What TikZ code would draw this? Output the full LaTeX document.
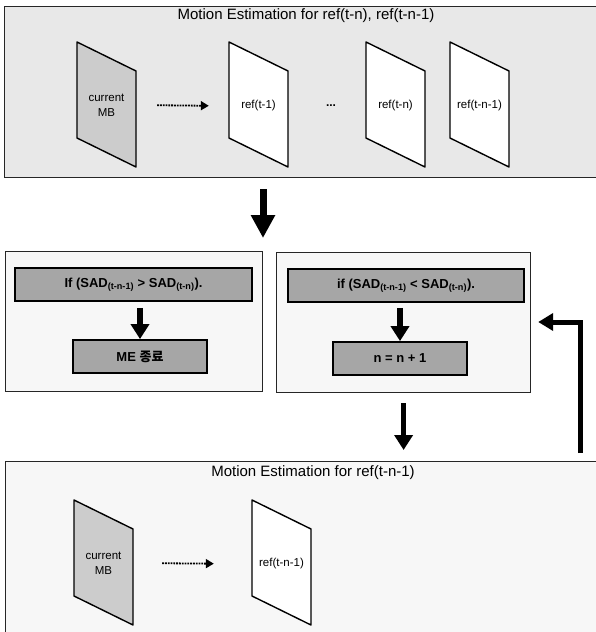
\documentclass[tikz,border=0pt]{standalone}
\usepackage{fontspec}
\setmainfont{Liberation Sans}
\newfontfamily\krfont{Noto Sans CJK KR}
\usetikzlibrary{arrows.meta}

\begin{document}
\begin{tikzpicture}[x=1pt,y=-1pt,
  panel/.style={draw=black!85, line width=1.2pt, anchor=north west, inner sep=0pt},
  sheet/.style={draw, line width=1.4pt, line join=round},
  plane/.style={minimum width=59pt, minimum height=125pt, inner sep=0pt, align=center, font=\fontsize{11.5}{15}\selectfont},
  title/.style={font=\fontsize{15}{17}\selectfont},
  cond/.style={draw, line width=1.8pt, fill=black!35, minimum height=33pt, inner sep=0pt, font=\bfseries\fontsize{13}{15}\selectfont},
  dotarrow/.style={densely dotted, line width=1.8pt, -{Triangle[length=8pt,width=9pt]}},
  bigarrow/.style={line width=7pt, -{Triangle[length=23pt,width=23pt]}},
  midarrow/.style={line width=5.5pt, -{Triangle[length=15pt,width=18pt]}},
  loopback/.style={line width=5pt, -{Triangle[length=15pt,width=17pt]}}]
\useasboundingbox (0,0) rectangle (596,632);
\clip (0,0) rectangle (596,632);

% panels
\node[panel, fill=black!9, minimum width=620pt, minimum height=171pt] (top) at (4,6) {};
\node[panel, fill=black!3, minimum width=257pt, minimum height=140pt] (midL) at (5,251) {};
\node[panel, fill=black!3, minimum width=254pt, minimum height=140pt] (midR) at (276,252) {};
\node[panel, fill=black!3, minimum width=620pt, minimum height=200pt] (bottom) at (5,461) {};

\node[title] (toptitle) at (306,16) {Motion Estimation for ref(t-n), ref(t-n-1)};
\node[title] (bottitle) at (313,473) {Motion Estimation for ref(t-n-1)};

% frames
\path[sheet, fill=black!20] (77,42) -- (136,71) -- (136,167) -- (77,138) -- cycle;
\path[sheet, fill=white] (229,42) -- (288,71) -- (288,167) -- (229,138) -- cycle;
\path[sheet, fill=white] (366,42) -- (425,71) -- (425,167) -- (366,138) -- cycle;
\path[sheet, fill=white] (450,42) -- (509,71) -- (509,167) -- (450,138) -- cycle;
\path[sheet, fill=black!20] (74,500) -- (133,529) -- (133,625) -- (74,596) -- cycle;
\path[sheet, fill=white] (252,500) -- (311,529) -- (311,625) -- (252,596) -- cycle;

\node[plane] (cur) at (106.5,105) {current\\MB};
\node[plane] (r1) at (258.5,106) {ref(t-1)};
\node[plane] (rn) at (395.5,106) {ref(t-n)};
\node[plane] (rn1) at (479.5,106) {ref(t-n-1)};
\node[font=\bfseries\fontsize{12}{12}\selectfont] (dots) at (331,106) {...};
\node[plane] (cur2) at (103.5,563) {current\\MB};
\node[plane] (r3) at (281.5,564) {ref(t-n-1)};

\draw[dotarrow, shorten <=21pt, shorten >=20pt] (cur.east) -- (r1.west);
\draw[dotarrow, shorten <=29pt, shorten >=38pt] (cur2.east) -- (r3.west);

% decisions
\node[cond, minimum width=237pt] (condL) at (133.5,284.5) {If (SAD\textsubscript{(t-n-1)} > SAD\textsubscript{(t-n)}).};
\node[cond, minimum width=134pt] (endL) at (140,356.5) {ME {\krfont 종료}};
\node[cond, minimum width=236pt] (condR) at (406,285.5) {if (SAD\textsubscript{(t-n-1)} < SAD\textsubscript{(t-n)}).};
\node[cond, minimum width=134pt] (incR) at (400,358.5) {n = n + 1};

\coordinate (split) at (263,251);
\coordinate (bend) at (580,322);

\draw[bigarrow, shorten <=11pt, shorten >=13pt] (top.south -| split) -- (split);
\draw[midarrow, shorten <=6pt] (condL.south -| endL.north) -- (endL.north);
\draw[midarrow, shorten <=5pt] (condR.south -| incR.north) -- (incR.north);
\draw[midarrow, shorten <=10pt, shorten >=11pt] (midR.south) -- (midR.south |- bottom.north);
\draw[loopback, shorten <=8pt, shorten >=7pt] (bottom.north -| bend) -- (bend) -- (midR.east |- bend);
\end{tikzpicture}
\end{document}
